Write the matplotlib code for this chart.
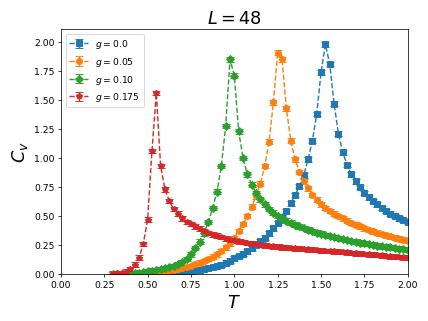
import matplotlib
matplotlib.use("Agg")
import matplotlib.pyplot as plt

T = [0.300, 0.325, 0.350, 0.375, 0.400, 0.425, 0.450, 0.475, 0.500, 0.525,
     0.550, 0.575, 0.600, 0.625, 0.650, 0.675, 0.700, 0.725, 0.750, 0.775,
     0.800, 0.825, 0.850, 0.875, 0.900, 0.925, 0.950, 0.975, 1.000, 1.025,
     1.050, 1.075, 1.100, 1.125, 1.150, 1.175, 1.200, 1.225, 1.250, 1.275,
     1.300, 1.325, 1.350, 1.375, 1.400, 1.425, 1.450, 1.475, 1.500, 1.525,
     1.550, 1.575, 1.600, 1.625, 1.650, 1.675, 1.700, 1.725, 1.750, 1.775,
     1.800, 1.825, 1.850, 1.875, 1.900, 1.925, 1.950, 1.975, 2.000]

cv_g0 = [0.0, 0.0, 0.0005, 0.0007, 0.001, 0.0015, 0.002, 0.003, 0.004, 0.005,
         0.006, 0.008, 0.010, 0.012, 0.015, 0.018, 0.021, 0.025, 0.029, 0.034,
         0.039, 0.045, 0.052, 0.060, 0.070, 0.082, 0.097, 0.115, 0.135, 0.155,
         0.175, 0.197, 0.222, 0.252, 0.283, 0.315, 0.352, 0.393, 0.440, 0.490,
         0.545, 0.610, 0.680, 0.760, 0.850, 0.990, 1.150, 1.380, 1.740, 1.980,
         1.810, 1.470, 1.210, 1.050, 0.940, 0.860, 0.800, 0.750, 0.700, 0.660,
         0.630, 0.600, 0.570, 0.545, 0.520, 0.500, 0.480, 0.465, 0.450]

cv_g005 = [0.0, 0.0005, 0.001, 0.001, 0.002, 0.003, 0.004, 0.006, 0.008, 0.010,
           0.013, 0.017, 0.021, 0.026, 0.032, 0.040, 0.048, 0.058, 0.070, 0.083,
           0.097, 0.113, 0.130, 0.150, 0.170, 0.200, 0.230, 0.265, 0.310, 0.370,
           0.430, 0.500, 0.580, 0.670, 0.780, 0.930, 1.140, 1.480, 1.910, 1.850,
           1.430, 1.150, 0.990, 0.880, 0.800, 0.740, 0.680, 0.640, 0.600, 0.570,
           0.545, 0.520, 0.500, 0.480, 0.460, 0.440, 0.425, 0.410, 0.395, 0.380,
           0.368, 0.356, 0.345, 0.335, 0.325, 0.315, 0.306, 0.297, 0.288]

cv_g010 = [0.0005, 0.001, 0.002, 0.003, 0.005, 0.008, 0.012, 0.017, 0.022, 0.028,
           0.035, 0.042, 0.050, 0.060, 0.070, 0.085, 0.100, 0.130, 0.170, 0.225,
           0.280, 0.350, 0.450, 0.570, 0.710, 0.930, 1.275, 1.850, 1.710, 1.230,
           1.000, 0.860, 0.770, 0.700, 0.645, 0.600, 0.560, 0.528, 0.500, 0.478,
           0.460, 0.442, 0.425, 0.410, 0.396, 0.383, 0.370, 0.358, 0.347, 0.337,
           0.328, 0.319, 0.310, 0.302, 0.294, 0.286, 0.278, 0.271, 0.264, 0.258,
           0.252, 0.246, 0.240, 0.235, 0.230, 0.225, 0.220, 0.215, 0.210]

cv_g0175 = [0.003, 0.006, 0.010, 0.020, 0.040, 0.080, 0.140, 0.260, 0.470, 1.060,
            1.560, 0.930, 0.730, 0.630, 0.560, 0.520, 0.480, 0.450, 0.430, 0.410,
            0.390, 0.370, 0.355, 0.340, 0.330, 0.320, 0.305, 0.297, 0.290, 0.282,
            0.275, 0.268, 0.262, 0.257, 0.252, 0.247, 0.243, 0.239, 0.235, 0.231,
            0.227, 0.224, 0.221, 0.218, 0.215, 0.212, 0.209, 0.206, 0.203, 0.200,
            0.200, 0.197, 0.193, 0.190, 0.186, 0.183, 0.179, 0.176, 0.172, 0.169,
            0.166, 0.163, 0.160, 0.157, 0.154, 0.151, 0.148, 0.145, 0.142]

labels = ["$g=0.0$", "$g=0.05$", "$g=0.10$", "$g=0.175$"]
series = [cv_g0, cv_g005, cv_g010, cv_g0175]
markers = ["s", "o", "D", "p"]
colors = ["#1f77b4", "#ff7f0e", "#2ca02c", "#d62728"]
err = 0.02

fig = plt.figure(figsize=(6.4, 4.8), dpi=67)
ax = fig.add_axes([0.142, 0.146, 0.809, 0.761])
for cv, lab, m, c in zip(series, labels, markers, colors):
    ax.errorbar(T, cv, yerr=err, fmt=m, ls="--", color=c, label=lab,
                markersize=6.5, capsize=4)
ax.set_xlim(0, 2.0)
ax.set_ylim(0, 2.11)
ax.set_xticks([0.0, 0.25, 0.5, 0.75, 1.0, 1.25, 1.5, 1.75, 2.0])
ax.set_yticks([0.0, 0.25, 0.5, 0.75, 1.0, 1.25, 1.5, 1.75, 2.0])
ax.xaxis.set_major_formatter(matplotlib.ticker.FormatStrFormatter("%.2f"))
ax.yaxis.set_major_formatter(matplotlib.ticker.FormatStrFormatter("%.2f"))
ax.set_xlabel("$T$", fontsize=19)
ax.set_ylabel("$C_v$", fontsize=19)
ax.set_title("$L=48$", fontsize=19)
ax.legend(loc="upper left")
fig.savefig("out.png", dpi=67)
